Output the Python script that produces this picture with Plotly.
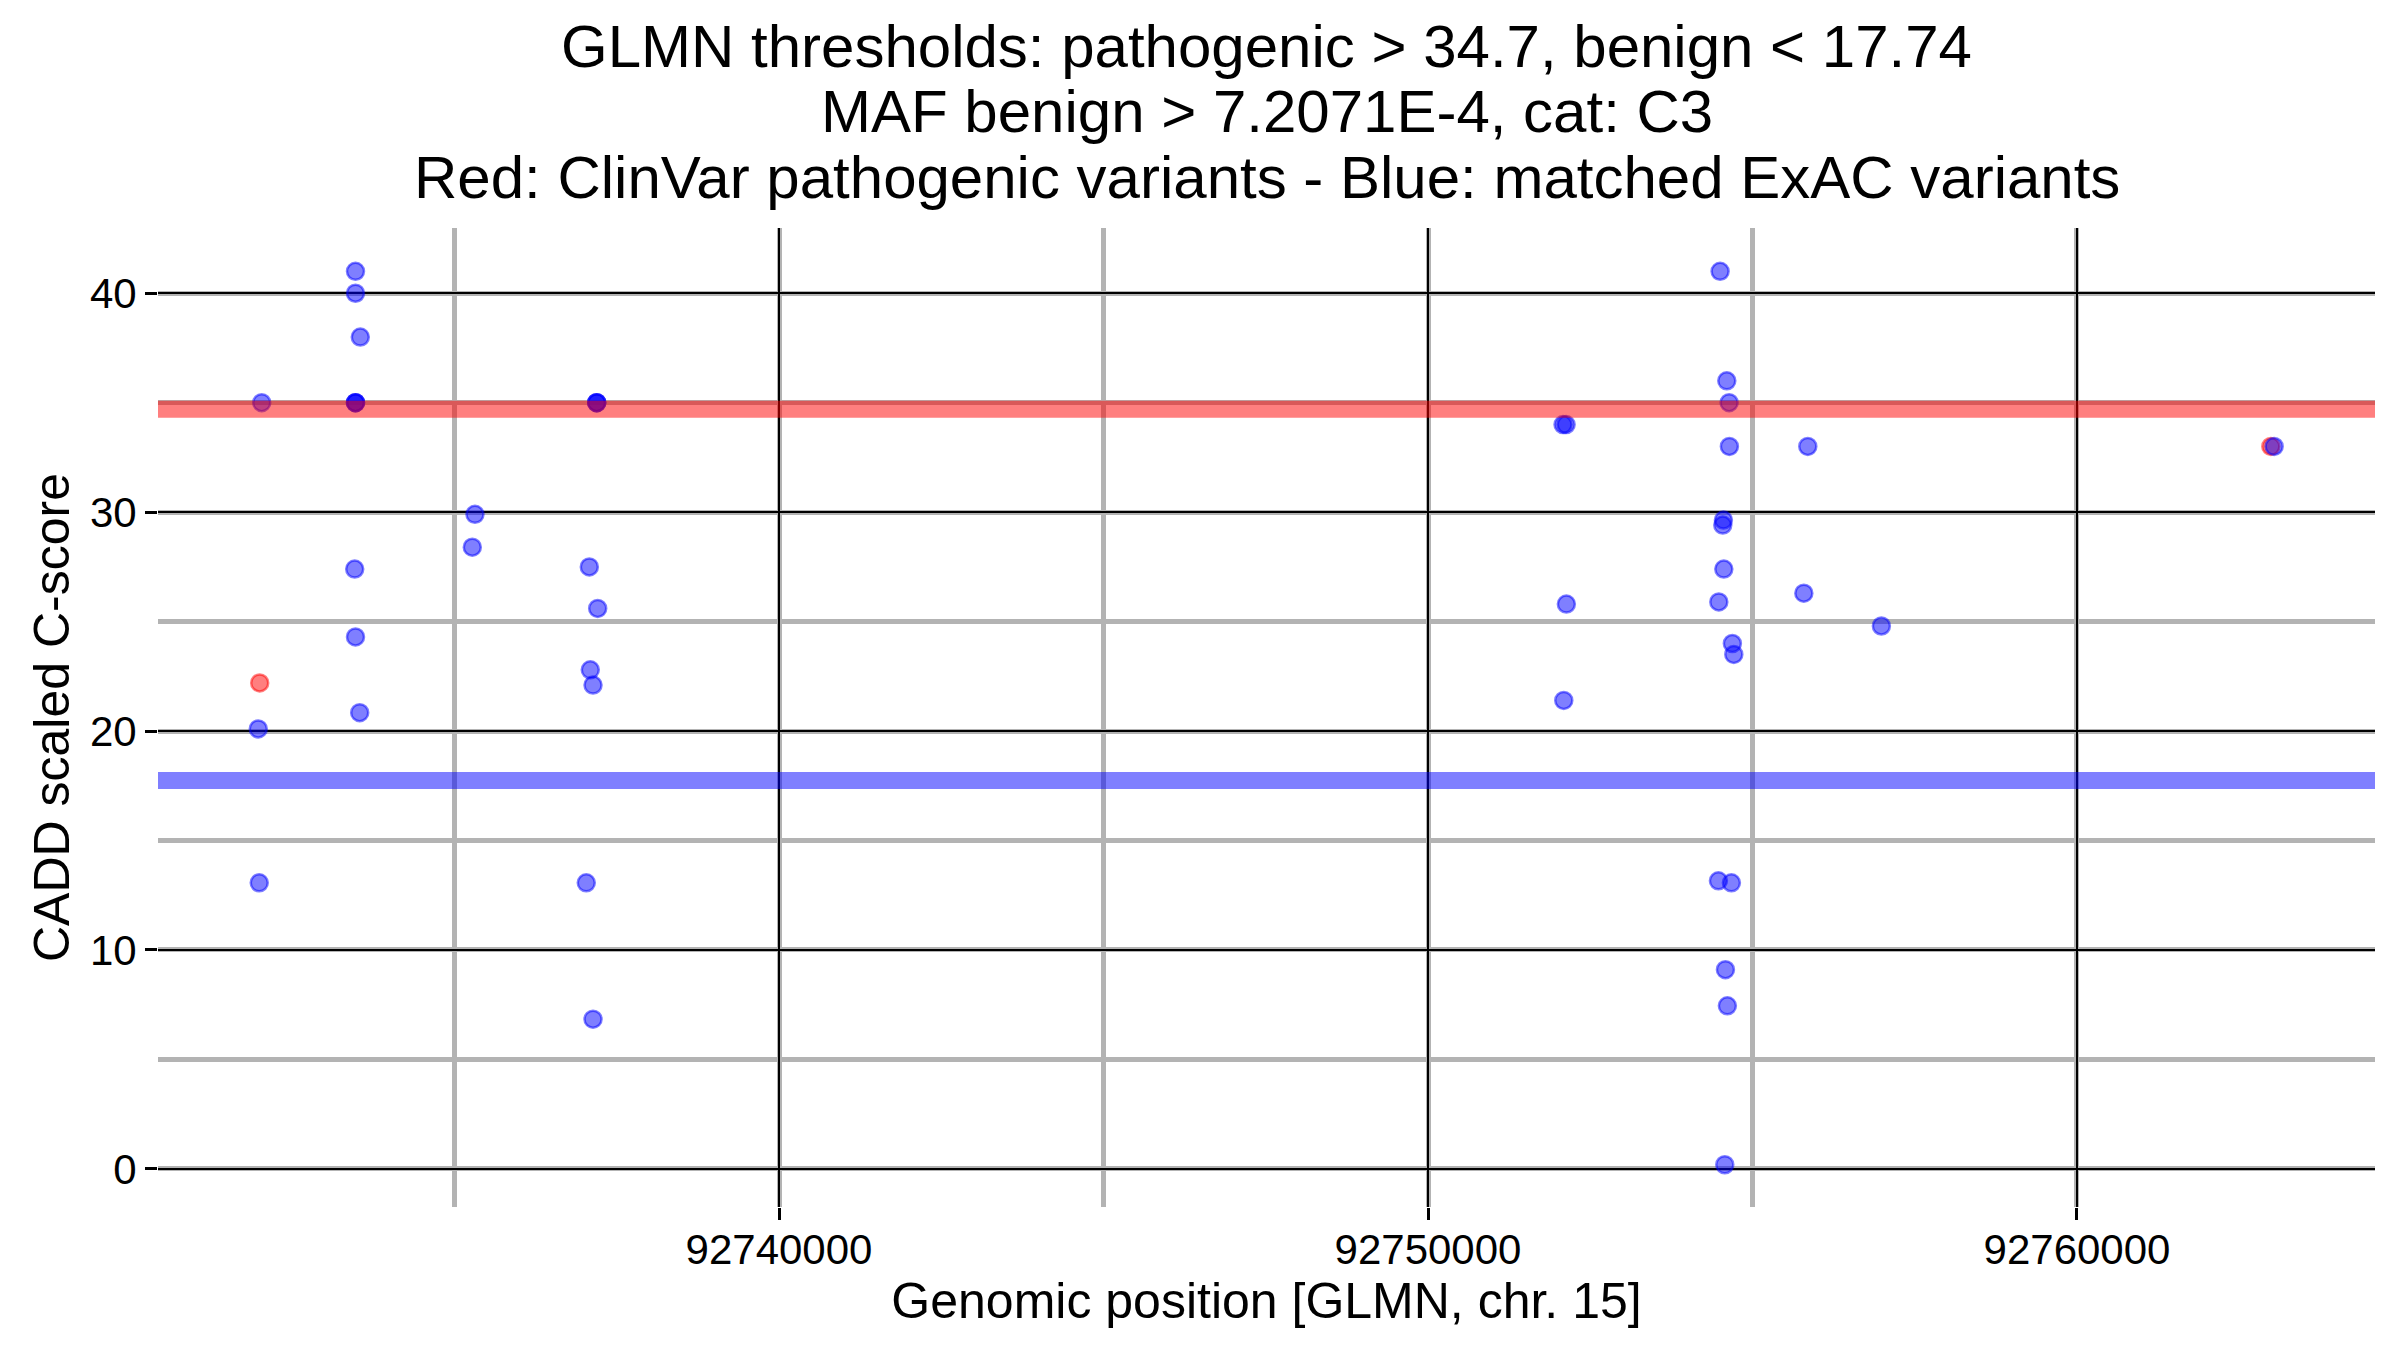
import plotly.graph_objects as go

# ---- data ----
blue_pos = [
    92732029, 92731976, 92731991,
    92733474, 92733474, 92733548, 92733474, 92733474, 92733474, 92733462, 92733474, 92733539,
    92735315, 92735274,
    92737191, 92737191, 92737191, 92737077, 92737206, 92737092, 92737134, 92737030, 92737134,
    92752081, 92752128, 92752132, 92752092,
    92754501, 92754604, 92754640, 92754644, 92755852,
    92754552, 92754542, 92754558, 92754481, 92755791, 92756986,
    92754690, 92754712, 92754475, 92754675, 92754583, 92754613, 92754573,
    92763038,
]
blue_score = [
    35.0, 20.1, 13.07,
    41.0, 40.0, 38.0, 35.0, 35.0, 35.0, 27.4, 24.3, 20.84,
    29.9, 28.4,
    35.0, 35.0, 35.0, 27.5, 25.6, 22.8, 22.1, 13.07, 6.84,
    34.0, 34.0, 25.8, 21.4,
    41.0, 36.0, 35.0, 33.0, 33.0,
    29.64, 29.41, 27.4, 25.9, 26.3, 24.8,
    24.0, 23.5, 13.16, 13.07, 9.1, 7.45, 0.19,
    33.0,
]
red_pos = [92731998, 92762987]
red_score = [22.2, 33.0]

pathogenic_threshold = 34.7
benign_threshold = 17.74

x_ticks = [92740000, 92750000, 92760000]
y_ticks = [0, 10, 20, 30, 40]

title_lines = [
    "GLMN thresholds: pathogenic > 34.7, benign < 17.74",
    "MAF benign > 7.2071E-4, cat: C3",
    "Red: ClinVar pathogenic variants - Blue: matched ExAC variants",
]

FONT = "Liberation Sans, Arial, Helvetica, sans-serif"

fig = go.Figure()
fig.add_trace(go.Scatter(
    x=red_pos, y=red_score, mode="markers", name="ClinVar",
    marker=dict(size=17, color="rgba(255,0,0,0.5)",
                line=dict(color="rgba(255,0,0,0.5)", width=2.5)),
    showlegend=False,
))
fig.add_trace(go.Scatter(
    x=blue_pos, y=blue_score, mode="markers", name="ExAC",
    marker=dict(size=17, color="rgba(0,0,255,0.5)",
                line=dict(color="rgba(0,0,255,0.5)", width=2.5)),
    showlegend=False,
))

fig.add_shape(type="line", xref="paper", x0=0, x1=1, yref="y",
              y0=pathogenic_threshold, y1=pathogenic_threshold,
              line=dict(color="rgba(255,0,0,0.5)", width=17), layer="above")
fig.add_shape(type="line", xref="paper", x0=0, x1=1, yref="y",
              y0=benign_threshold, y1=benign_threshold,
              line=dict(color="rgba(0,0,255,0.5)", width=17), layer="above")

# page body has an 8px margin: compensate so the plot lands where the reference has it
OFF = 8
plot_left, plot_right = 158, 2375
plot_top, plot_bottom = 228, 1207
ph = plot_bottom - plot_top
for i, txt in enumerate(title_lines):
    yc = 47 + 65 * i
    fig.add_annotation(text=txt, xref="paper", yref="paper",
                       x=0.5, y=(plot_bottom - yc) / ph,
                       xanchor="center", yanchor="middle", showarrow=False,
                       font=dict(family=FONT, size=60, color="black"))

grid_minor = "#b3b3b3"
fig.update_layout(
    width=2400, height=1350,
    margin=dict(l=plot_left - OFF, r=2400 - plot_right + OFF,
                t=plot_top - OFF, b=1350 - plot_bottom + OFF, autoexpand=False),
    paper_bgcolor="white", plot_bgcolor="white",
    font=dict(family=FONT, color="black"),
    xaxis=dict(
        range=[92730431, 92764592],
        tickvals=x_ticks, tickformat="d",
        ticks="outside", ticklen=12, tickwidth=2.5, tickcolor="black",
        tickfont=dict(size=42, color="black"),
        ticklabelstandoff=-6,
        showgrid=True, gridcolor="black", gridwidth=1.6,
        minor=dict(dtick=5000, tick0=92735000, showgrid=True, gridcolor=grid_minor, gridwidth=4.5, ticks=""),
        zeroline=False, showline=False,
        title=dict(text="Genomic position [GLMN, chr. 15]", font=dict(size=50, color="black"), standoff=10),
        automargin=False,
    ),
    yaxis=dict(
        range=[-1.74, 42.98],
        tickvals=y_ticks,
        ticks="outside", ticklen=12, tickwidth=3, tickcolor="black",
        tickfont=dict(size=42, color="black"),
        showgrid=True, gridcolor="black", gridwidth=1.6,
        minor=dict(dtick=5, tick0=5, showgrid=True, gridcolor=grid_minor, gridwidth=4.5, ticks=""),
        zeroline=False, showline=False,
        title=dict(text="CADD scaled C-score", font=dict(size=50, color="black"), standoff=4),
        automargin=False,
    ),
)

fig.write_html("out.html")
